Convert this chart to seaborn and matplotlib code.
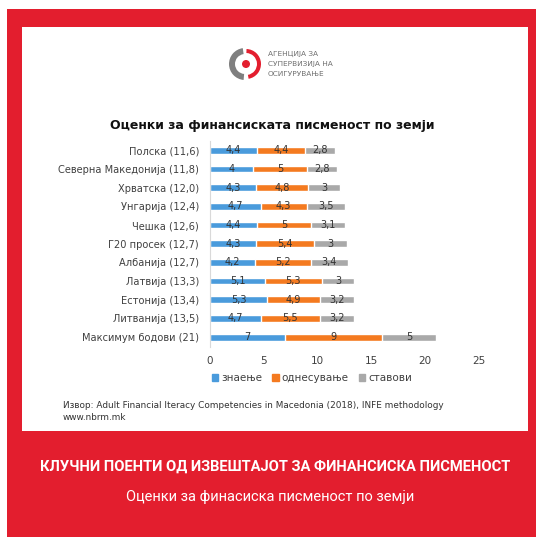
import matplotlib
matplotlib.use("Agg")
import matplotlib.pyplot as plt
from matplotlib.patches import Rectangle, Wedge, Circle, Patch
import pandas as pd
import seaborn as sns

# data
countries = ["Полска (11,6)", "Северна Македонија (11,8)", "Хрватска (12,0)",
             "Унгарија (12,4)", "Чешка (12,6)", "Г20 просек (12,7)",
             "Албанија (12,7)", "Латвија (13,3)", "Естонија (13,4)",
             "Литванија (13,5)", "Максимум бодови (21)"]
knowledge = [4.4, 4, 4.3, 4.7, 4.4, 4.3, 4.2, 5.1, 5.3, 4.7, 7]
behaviour = [4.4, 5, 4.8, 4.3, 5, 5.4, 5.2, 5.3, 4.9, 5.5, 9]
attitudes = [2.8, 2.8, 3, 3.5, 3.1, 3, 3.4, 3, 3.2, 3.2, 5]
series_names = ["знаење", "однесување", "ставови"]
xticks = [0, 5, 10, 15, 20, 25]

RED = "#E31E2E"
BLUE = "#4A9BDC"
ORANGE = "#F47A20"
GRAY = "#A9A9A9"

W, H = 536, 541
sns.set_style("white")
fig = plt.figure(figsize=(W / 100, H / 100), dpi=100)
fig.patch.set_facecolor("white")

# background / frame axes in pixel coordinates (y measured from top)
bg = fig.add_axes([0, 0, 1, 1], zorder=0)
bg.set_xlim(0, W)
bg.set_ylim(H, 0)
bg.axis("off")
bg.add_patch(Rectangle((7, 9), W - 7, 528, color=RED, lw=0))
bg.add_patch(Rectangle((22, 27), 506, 404, color="white", lw=0))

# logo
cx, cy = 245, 64
bg.add_patch(Wedge((cx, cy), 16, 95, 262, width=6, color="#7F7F7F", lw=0))
bg.add_patch(Wedge((cx + 1, cy), 15, -88, 80, width=4, color=RED, lw=0))
bg.add_patch(Circle((cx + 1, cy), 4, color=RED, lw=0))
for i, line in enumerate(["АГЕНЦИЈА ЗА", "СУПЕРВИЗИЈА НА", "ОСИГУРУВАЊЕ"]):
    bg.text(268, 54 + i * 10, line, fontsize=5.3, color="#707070",
            family=["Liberation Sans Narrow", "DejaVu Sans"], va="center")

bg.text(272, 126, "Оценки за финансиската писменост по земји", fontsize=9,
        fontweight="bold", color="#111111", ha="center", va="center")
bg.text(63, 406, "Извор: Adult Financial Iteracy Competencies in Macedonia (2018), INFE methodology",
        fontsize=6.4, color="#333333", va="center")
bg.text(63, 418, "www.nbrm.mk", fontsize=6.4, color="#333333", va="center")
bg.text(275, 467, "КЛУЧНИ ПОЕНТИ ОД ИЗВЕШТАЈОТ ЗА ФИНАНСИСКА ПИСМЕНОСТ",
        fontsize=10.6, fontweight="bold", color="white", family="Roboto",
        ha="center", va="center")
bg.text(270, 497, "Оценки за финасиска писменост по земји", fontsize=10.5,
        color="white", family="Roboto", ha="center", va="center")

# chart axes
ax = fig.add_axes([210 / W, 1 - 346.5 / H, 269 / W, 205.5 / H], zorder=2)
ax.set_facecolor("none")

df = pd.DataFrame({"country": countries, "k": knowledge,
                   "b": behaviour, "a": attitudes})
df["kb"] = df["k"] + df["b"]
df["total"] = df["kb"] + df["a"]

sns.barplot(data=df, x="total", y="country", color=GRAY, saturation=1,
            width=0.36, ax=ax)
sns.barplot(data=df, x="kb", y="country", color=ORANGE, saturation=1,
            width=0.36, ax=ax)
sns.barplot(data=df, x="k", y="country", color=BLUE, saturation=1,
            width=0.36, ax=ax)


def fmt(v):
    return f"{v:g}".replace(".", ",")


for i, row in df.iterrows():
    for left, val in [(0, row["k"]), (row["k"], row["b"]), (row["kb"], row["a"])]:
        ax.text(left + val / 2, i, fmt(val), ha="center", va="center",
                fontsize=7, color="#333333")

ax.set_xlim(0, 25)
ax.set_ylim(10.5, -0.5)
ax.set_xticks(xticks)
ax.set_xlabel("")
ax.set_ylabel("")
ax.tick_params(axis="both", length=0, labelsize=7.5, labelcolor="#404040")
ax.tick_params(axis="y", pad=8, labelsize=7.1)
ax.tick_params(axis="x", pad=7)
for s in ["top", "right", "bottom"]:
    ax.spines[s].set_visible(False)
ax.spines["left"].set_color("#D9D9D9")
ax.spines["left"].set_linewidth(0.8)

handles = [Patch(color=c, label=n) for c, n in zip([BLUE, ORANGE, GRAY], series_names)]
fig.legend(handles=handles, loc="center", bbox_to_anchor=(312 / W, 1 - 378 / H),
           ncol=3, frameon=False, fontsize=7.5, handlelength=0.6, handleheight=0.6,
           handletextpad=0.3, columnspacing=1.0, labelcolor="#404040")

fig.savefig("out.png", dpi=100)
